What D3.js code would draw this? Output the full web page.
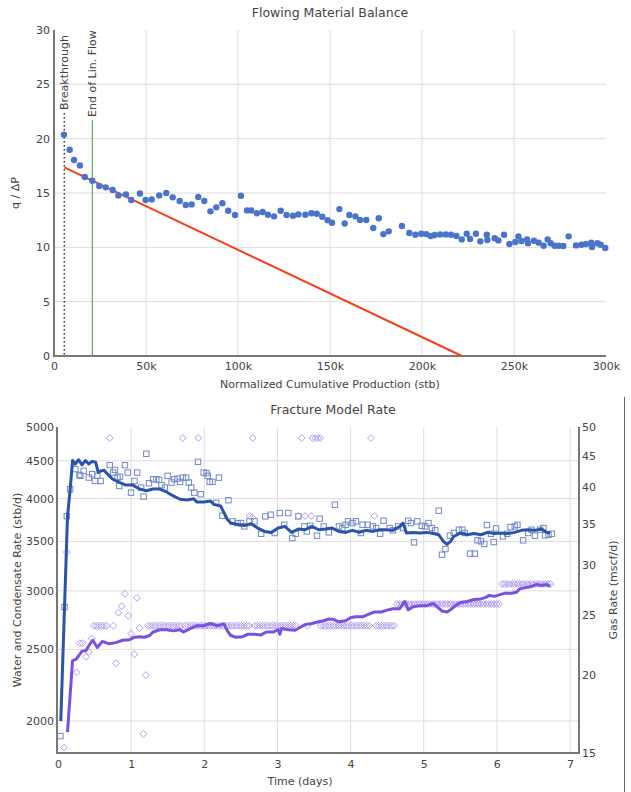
<!DOCTYPE html>
<html>
<head>
<meta charset="utf-8">
<script src="https://cdn.jsdelivr.net/npm/d3@7"></script>
<style>
  body { margin: 0; background: #fff; }
  text { font-family: 'DejaVu Sans', Verdana, sans-serif; fill: #444; }
</style>
</head>
<body>
<div id="viz"></div>
<script>
// ---- Flowing Material Balance data ----
// [normalized cumulative production (stb), q / dP]
const fmbPoints = [
  [5400, 20.36], [8500, 18.98], [10900, 18.03], [14100, 17.54], [16700, 16.47], [20800, 16.13],
  [24600, 15.64], [28100, 15.52], [31900, 15.27], [35000, 14.78], [39100, 14.87], [42000, 14.35],
  [46700, 14.96], [49800, 14.35], [53100, 14.41], [57200, 14.78], [61000, 15.0], [64500, 14.6],
  [68300, 14.26], [71600, 13.89], [74800, 13.95], [78400, 14.63], [81700, 14.26], [85000, 13.31],
  [88200, 13.68], [91500, 14.05], [94700, 13.37], [98400, 12.97], [101600, 14.75], [104900, 13.4],
  [107200, 13.4], [110200, 13.13], [113400, 13.25], [116300, 13.0], [119600, 12.85], [123200, 13.37],
  [126400, 12.97], [129900, 12.91], [132800, 13.03], [136600, 13.0], [139900, 13.13], [142800, 13.09],
  [145800, 12.82], [148700, 12.5], [151100, 12.26], [155100, 13.52], [158000, 12.2], [160500, 12.97],
  [163800, 12.85], [166300, 12.51], [169700, 12.51], [173500, 11.78], [176500, 12.67], [179000, 11.22],
  [181900, 11.47], [189100, 11.96], [193100, 11.32], [196400, 11.16], [199600, 11.25], [202300, 11.22],
  [204700, 11.04], [206900, 11.13], [209900, 11.19], [213000, 11.19], [215800, 11.16], [218700, 11.04],
  [221600, 10.73], [224300, 11.25], [226100, 10.76], [229300, 11.25], [231700, 10.55], [235200, 11.16],
  [235500, 10.67], [239500, 10.83], [241500, 10.64], [244600, 11.16], [247500, 10.3], [250700, 10.49],
  [252400, 11.01], [254000, 10.58], [257100, 10.73], [257600, 10.37], [260900, 10.61], [263400, 10.43],
  [266100, 10.15], [268300, 10.73], [269900, 10.37], [272100, 10.15], [274300, 10.15], [276800, 10.12],
  [279700, 11.01], [283700, 10.18], [286600, 10.24], [289100, 10.3], [292000, 10.43], [292400, 10.03],
  [295300, 10.37], [297100, 10.24], [299600, 9.94]
]
const fmbFit = [[5600, 17.35], [221700, 0]]
const breakthroughX = 5600
const endLinFlowX = 20800
const fmbXTicks = [0, 50000, 100000, 150000, 200000, 250000, 300000]
const fmbYTicks = [0, 5, 10, 15, 20, 25, 30]

// ---- Fracture Model Rate data ----
// water + condensate measured [days, stb/d]
const waterPoints = [
  [0.033, 1908], [0.089, 2853], [0.120, 3786], [0.167, 4119], [0.236, 4385], [0.292, 4306],
  [0.306, 4294], [0.351, 4361], [0.421, 4271], [0.467, 4316], [0.505, 4226], [0.537, 4294],
  [0.583, 4226], [0.707, 4440], [0.754, 4338], [0.779, 4373], [0.814, 4270], [0.837, 4160],
  [0.848, 4283], [0.915, 4440], [0.953, 4338], [0.998, 4075], [1.045, 4226], [1.082, 4338],
  [1.137, 4140], [1.170, 4025], [1.207, 4600], [1.244, 4196], [1.300, 4249], [1.345, 4249],
  [1.383, 4240], [1.415, 4170], [1.461, 4140], [1.498, 4294], [1.553, 4205], [1.591, 4249],
  [1.636, 4257], [1.669, 4214], [1.706, 4270], [1.752, 4270], [1.789, 4205], [1.822, 4140],
  [1.863, 4075], [1.914, 4486], [1.951, 4055], [1.992, 4338], [2.030, 4330], [2.048, 4294],
  [2.075, 4214], [2.113, 4214], [2.163, 3947], [2.200, 4270], [2.247, 3792], [2.330, 3980],
  [2.386, 3726], [2.455, 3706], [2.501, 3706], [2.547, 3668], [2.617, 3726], [2.686, 3726],
  [2.778, 3585], [2.834, 3784], [2.908, 3804], [2.963, 3593], [3.032, 3824], [3.092, 3687],
  [3.148, 3824], [3.203, 3537], [3.250, 3585], [3.286, 3784], [3.369, 3668], [3.402, 3611],
  [3.448, 3675], [3.541, 3563], [3.577, 3757], [3.633, 3668], [3.703, 3600], [3.786, 3924],
  [3.841, 3668], [3.887, 3649], [3.933, 3687], [3.965, 3726], [4.026, 3706], [4.072, 3726],
  [4.141, 3593], [4.164, 3687], [4.234, 3687], [4.303, 3668], [4.350, 3649], [4.404, 3585],
  [4.451, 3733], [4.534, 3649], [4.580, 3623], [4.650, 3668], [4.719, 3649], [4.788, 3733],
  [4.825, 3706], [4.867, 3490], [4.913, 3726], [4.973, 3675], [5.019, 3668], [5.066, 3706],
  [5.112, 3649], [5.158, 3623], [5.205, 3852], [5.250, 3358], [5.297, 3418], [5.357, 3563],
  [5.412, 3593], [5.481, 3630], [5.528, 3630], [5.560, 3593], [5.634, 3369], [5.698, 3369],
  [5.736, 3512], [5.782, 3501], [5.828, 3472], [5.865, 3683], [5.920, 3585], [5.957, 3494],
  [5.989, 3645], [6.083, 3556], [6.142, 3585], [6.188, 3660], [6.244, 3668], [6.281, 3687],
  [6.359, 3512], [6.428, 3593], [6.475, 3630], [6.521, 3563], [6.591, 3630], [6.636, 3649],
  [6.660, 3567], [6.706, 3574], [6.752, 3585]
]
// water + condensate model [days, stb/d]
const waterModel = [
  [0.038, 2000], [0.089, 2853], [0.130, 3786], [0.167, 4119], [0.199, 4505], [0.236, 4455],
  [0.282, 4515], [0.328, 4444], [0.375, 4503], [0.421, 4455], [0.467, 4492], [0.514, 4480],
  [0.550, 4340], [0.583, 4360], [0.629, 4370], [0.675, 4320], [0.745, 4252], [0.837, 4207],
  [0.929, 4172], [1.022, 4172], [1.114, 4122], [1.207, 4099], [1.300, 4121], [1.392, 4121],
  [1.484, 4083], [1.576, 4033], [1.669, 3992], [1.761, 3983], [1.854, 3998], [1.900, 3957],
  [1.992, 3957], [2.084, 3970], [2.131, 3929], [2.223, 3909], [2.270, 3826], [2.316, 3748],
  [2.362, 3707], [2.455, 3690], [2.547, 3677], [2.639, 3699], [2.731, 3649], [2.825, 3611],
  [2.917, 3600], [3.009, 3649], [3.101, 3667], [3.194, 3600], [3.286, 3638], [3.378, 3630],
  [3.471, 3667], [3.564, 3630], [3.656, 3638], [3.748, 3649], [3.841, 3611], [3.933, 3600],
  [4.025, 3623], [4.118, 3600], [4.210, 3623], [4.302, 3611], [4.394, 3630], [4.487, 3630],
  [4.579, 3623], [4.672, 3667], [4.718, 3706], [4.764, 3593], [4.857, 3600], [4.949, 3593],
  [5.041, 3600], [5.134, 3587], [5.204, 3574], [5.272, 3498], [5.319, 3470], [5.365, 3498],
  [5.411, 3554], [5.504, 3593], [5.596, 3574], [5.688, 3587], [5.781, 3574], [5.874, 3600],
  [5.966, 3587], [6.058, 3593], [6.151, 3587], [6.243, 3600], [6.335, 3623], [6.427, 3630],
  [6.520, 3623], [6.613, 3638], [6.682, 3600], [6.729, 3593]
]
// gas measured [days, mscf/d]
const gasPoints = [
  [0.083, 15.3], [0.120, 31.5], [0.255, 20.2], [0.300, 22.5], [0.335, 22.5], [0.383, 21.4],
  [0.418, 21.8], [0.460, 22.9], [0.708, 48], [0.756, 24], [0.792, 20.9], [0.826, 25.2],
  [0.872, 25.8], [0.916, 27.0], [0.961, 24.9], [0.999, 23.3], [1.044, 21.6], [1.079, 26.6],
  [1.117, 23.8], [1.168, 16.1], [1.200, 20.0], [1.706, 48], [1.918, 48], [2.620, 36],
  [2.655, 35.8], [2.662, 48], [3.287, 36], [3.332, 48], [3.378, 36], [3.411, 24], [3.462, 36],
  [3.479, 48], [3.516, 48], [3.553, 48], [3.586, 48], [4.279, 48], [4.326, 36],
  [0.490, 24], [0.525, 24], [0.560, 24], [0.595, 24], [0.630, 24], [0.665, 24],
  [1.230, 24], [1.265, 24], [1.300, 24], [1.335, 24], [1.370, 24], [1.405, 24], [1.440, 24],
  [1.475, 24], [1.510, 24], [1.545, 24], [1.580, 24], [1.615, 24], [1.650, 24], [1.685, 24],
  [1.740, 24], [1.775, 24], [1.810, 24], [1.845, 24], [1.880, 24], [1.915, 24], [1.950, 24],
  [1.985, 24], [2.020, 24], [2.055, 24], [2.090, 24], [2.125, 24], [2.160, 24], [2.195, 24],
  [2.230, 24], [2.265, 24], [2.300, 24], [2.335, 24], [2.370, 24], [2.405, 24], [2.440, 24],
  [2.475, 24], [2.510, 24], [2.545, 24], [2.580, 24], [2.610, 24],
  [2.690, 24], [2.725, 24], [2.760, 24], [2.795, 24], [2.830, 24], [2.865, 24], [2.900, 24],
  [2.935, 24], [2.970, 24], [3.005, 24], [3.040, 24], [3.075, 24], [3.110, 24], [3.145, 24],
  [3.180, 24], [3.215, 24], [3.250, 24],
  [3.590, 24], [3.625, 24], [3.660, 24], [3.695, 24], [3.730, 24], [3.765, 24], [3.800, 24],
  [3.835, 24], [3.870, 24], [3.905, 24], [3.940, 24], [3.975, 24], [4.010, 24], [4.045, 24],
  [4.080, 24], [4.115, 24], [4.150, 24], [4.185, 24], [4.220, 24], [4.255, 24],
  [4.350, 24], [4.385, 24], [4.420, 24], [4.455, 24], [4.490, 24], [4.525, 24], [4.560, 24],
  [4.595, 24],
  [4.630, 26], [4.665, 26], [4.700, 26], [4.735, 26], [4.770, 26], [4.805, 26], [4.840, 26],
  [4.875, 26], [4.910, 26], [4.945, 26], [4.980, 26], [5.015, 26], [5.050, 26], [5.085, 26],
  [5.120, 26], [5.155, 26], [5.190, 26], [5.225, 26], [5.260, 26], [5.295, 26], [5.330, 26],
  [5.365, 26], [5.400, 26], [5.435, 26], [5.470, 26], [5.505, 26], [5.540, 26], [5.575, 26],
  [5.610, 26], [5.645, 26], [5.680, 26], [5.715, 26], [5.750, 26], [5.785, 26], [5.820, 26],
  [5.855, 26], [5.890, 26], [5.925, 26], [5.960, 26], [5.995, 26], [6.030, 26],
  [6.070, 28], [6.105, 28], [6.140, 28], [6.175, 28], [6.210, 28], [6.245, 28], [6.280, 28],
  [6.315, 28], [6.350, 28], [6.385, 28], [6.420, 28], [6.455, 28], [6.490, 28], [6.525, 28],
  [6.560, 28], [6.595, 28], [6.630, 28], [6.665, 28], [6.700, 28], [6.735, 28]
]
// gas model [days, mscf/d]
const gasModel = [
  [0.130, 16.2], [0.199, 21.1], [0.246, 21.2], [0.329, 21.85], [0.384, 21.9], [0.421, 22.3],
  [0.476, 22.75], [0.537, 22.15], [0.606, 22.65], [0.698, 22.45], [0.791, 22.55], [0.883, 22.75],
  [0.975, 22.78], [1.045, 23.0], [1.114, 23.05], [1.184, 23.0], [1.253, 23.15], [1.300, 23.45],
  [1.392, 23.65], [1.484, 23.65], [1.576, 23.55], [1.669, 23.65], [1.715, 23.45], [1.808, 23.75],
  [1.900, 24.0], [1.992, 24.0], [2.084, 24.2], [2.177, 24.0], [2.270, 24.15], [2.316, 23.55],
  [2.362, 23.15], [2.431, 23.0], [2.523, 23.05], [2.592, 23.25], [2.685, 23.25], [2.777, 23.2],
  [2.847, 23.45], [2.939, 23.45], [3.009, 23.65], [3.033, 23.25], [3.056, 23.75], [3.148, 23.65],
  [3.240, 23.6], [3.309, 23.85], [3.378, 24.1], [3.471, 24.2], [3.564, 24.35], [3.633, 24.45],
  [3.703, 24.6], [3.772, 24.55], [3.841, 24.35], [3.933, 24.45], [4.003, 24.75], [4.072, 24.8],
  [4.164, 24.8], [4.233, 25.0], [4.325, 25.25], [4.418, 25.25], [4.487, 25.4], [4.579, 25.55],
  [4.672, 25.55], [4.718, 26.05], [4.741, 26.25], [4.788, 25.45], [4.857, 25.75], [4.949, 25.85],
  [5.041, 25.85], [5.134, 26.05], [5.180, 25.75], [5.249, 25.35], [5.319, 25.25], [5.365, 25.45],
  [5.434, 25.85], [5.504, 26.15], [5.596, 26.25], [5.688, 26.45], [5.781, 26.5], [5.850, 26.65],
  [5.897, 26.85], [5.966, 26.75], [6.058, 26.95], [6.104, 27.05], [6.197, 27.05], [6.266, 27.15],
  [6.312, 27.5], [6.381, 27.6], [6.473, 27.75], [6.543, 27.95], [6.613, 27.85], [6.682, 27.95],
  [6.729, 27.75]
]
const rateXTicks = [0, 1, 2, 3, 4, 5, 6, 7]
const rateLeftTicks = [2000, 2500, 3000, 3500, 4000, 4500, 5000]
const rateRightTicks = [15, 20, 25, 30, 35, 40, 45, 50]

const width = 631, height = 792

const svg = d3.select('#viz').append('svg')
    .attr('width', width)
    .attr('height', height)

const gridColor = '#dedede', axisColor = '#777'

// ================= Flowing Material Balance =================
const fmb = { left: 54, right: 606, top: 30, bottom: 356 }

const x1 = d3.scaleLinear().domain([0, 300000]).range([fmb.left, fmb.right])
const y1 = d3.scaleLinear().domain([0, 30]).range([fmb.bottom, fmb.top])

const g1 = svg.append('g')

// grid
g1.append('g').selectAll('line').data(fmbXTicks.filter(d => d > 0 && d < 300000))
    .enter().append('line')
    .attr('x1', d => x1(d)).attr('x2', d => x1(d))
    .attr('y1', fmb.top).attr('y2', fmb.bottom)
    .attr('stroke', gridColor)
g1.append('g').selectAll('line').data(fmbYTicks.filter(d => d > 0 && d < 30))
    .enter().append('line')
    .attr('x1', fmb.left).attr('x2', fmb.right)
    .attr('y1', d => y1(d)).attr('y2', d => y1(d))
    .attr('stroke', gridColor)

// axes
const xAxis1 = d3.axisBottom(x1).tickValues(fmbXTicks).tickSize(0).tickPadding(6)
    .tickFormat(d => d === 0 ? '0' : d / 1000 + 'k')
const xAxis1G = g1.append('g').attr('transform', `translate(0, ${fmb.bottom})`).call(xAxis1)
const yAxis1 = d3.axisLeft(y1).tickValues(fmbYTicks).tickSize(0).tickPadding(4)
const yAxis1G = g1.append('g').attr('transform', `translate(${fmb.left}, 0)`).call(yAxis1)
;[xAxis1G, yAxis1G].forEach(a => {
    a.select('.domain').remove()
    a.selectAll('text').style('font-size', '11px').style('font-family', "'DejaVu Sans', sans-serif").attr('fill', '#444')
})

g1.append('line').attr('x1', fmb.left).attr('x2', fmb.left)
    .attr('y1', fmb.top).attr('y2', fmb.bottom + 1)
    .attr('stroke', axisColor).attr('stroke-width', 2)
g1.append('line').attr('x1', fmb.left).attr('x2', fmb.right)
    .attr('y1', fmb.bottom).attr('y2', fmb.bottom)
    .attr('stroke', axisColor).attr('stroke-width', 2)

// breakthrough + end of linear flow markers
g1.append('line')
    .attr('x1', x1(breakthroughX)).attr('x2', x1(breakthroughX))
    .attr('y1', 113).attr('y2', fmb.bottom)
    .attr('stroke', '#333').attr('stroke-width', 1.5).attr('stroke-dasharray', '1.5,2.5')
g1.append('text')
    .attr('transform', `translate(${x1(breakthroughX) + 4}, 110) rotate(-90)`)
    .style('font-size', '11px')
    .text('Breakthrough')
g1.append('line')
    .attr('x1', x1(endLinFlowX)).attr('x2', x1(endLinFlowX))
    .attr('y1', 120).attr('y2', fmb.bottom)
    .attr('stroke', '#3a9a3a').attr('stroke-width', 1)
g1.append('text')
    .attr('transform', `translate(${x1(endLinFlowX) + 4}, 117) rotate(-90)`)
    .style('font-size', '11px')
    .text('End of Lin. Flow')

// fit line
g1.append('path').datum(fmbFit)
    .attr('d', d3.line().x(d => x1(d[0])).y(d => y1(d[1])))
    .attr('fill', 'none').attr('stroke', '#f4411c').attr('stroke-width', 2)

// points
g1.append('g').selectAll('circle').data(fmbPoints)
    .enter().append('circle')
    .attr('cx', d => x1(d[0])).attr('cy', d => y1(d[1]))
    .attr('r', 3.2)
    .attr('fill', '#4a74cc')

g1.append('text').attr('x', 330).attr('y', 17).attr('text-anchor', 'middle')
    .style('font-size', '12.5px').attr('fill', '#333')
    .text('Flowing Material Balance')
g1.append('text').attr('transform', `translate(19, ${(fmb.top + fmb.bottom) / 2}) rotate(-90)`)
    .attr('text-anchor', 'middle').style('font-size', '11px')
    .text('q / ΔP')
g1.append('text').attr('x', 330).attr('y', 388).attr('text-anchor', 'middle')
    .style('font-size', '11px')
    .text('Normalized Cumulative Production (stb)')

// ================= Fracture Model Rate =================
const fr = { left: 57, right: 579, top: 427, bottom: 753 }

const x2 = d3.scaleLinear().domain([0, 7]).range([58, 570])
const yL = d3.scaleLog().domain([1810, 5000]).range([fr.bottom, fr.top])
const yR = d3.scaleLog().domain([15, 50]).range([fr.bottom, fr.top])

const g2 = svg.append('g')

g2.append('g').selectAll('line').data(rateXTicks.filter(d => d > 0))
    .enter().append('line')
    .attr('x1', d => x2(d)).attr('x2', d => x2(d))
    .attr('y1', fr.top).attr('y2', fr.bottom)
    .attr('stroke', gridColor)
g2.append('g').selectAll('line').data(rateLeftTicks.filter(d => d < 5000))
    .enter().append('line')
    .attr('x1', fr.left).attr('x2', fr.right)
    .attr('y1', d => yL(d)).attr('y2', d => yL(d))
    .attr('stroke', gridColor)

const xAxis2G = g2.append('g').attr('transform', `translate(0, ${fr.bottom})`)
    .call(d3.axisBottom(x2).tickValues(rateXTicks).tickSize(0).tickPadding(7).tickFormat(d3.format('d')))
const yAxisLG = g2.append('g').attr('transform', `translate(${fr.left}, 0)`)
    .call(d3.axisLeft(yL).tickValues(rateLeftTicks).tickSize(0).tickPadding(3).tickFormat(d3.format('d')))
const yAxisRG = g2.append('g').attr('transform', `translate(${fr.right}, 0)`)
    .call(d3.axisRight(yR).tickValues(rateRightTicks).tickSize(0).tickPadding(3).tickFormat(d3.format('d')))
;[xAxis2G, yAxisLG, yAxisRG].forEach(a => {
    a.select('.domain').remove()
    a.selectAll('text').style('font-size', '11px').style('font-family', "'DejaVu Sans', sans-serif").attr('fill', '#444')
})

g2.append('line').attr('x1', fr.left).attr('x2', fr.left)
    .attr('y1', fr.top).attr('y2', fr.bottom + 1)
    .attr('stroke', axisColor).attr('stroke-width', 2)
g2.append('line').attr('x1', fr.right).attr('x2', fr.right)
    .attr('y1', fr.top).attr('y2', fr.bottom + 1)
    .attr('stroke', axisColor).attr('stroke-width', 2)
g2.append('line').attr('x1', fr.left).attr('x2', fr.right)
    .attr('y1', fr.bottom).attr('y2', fr.bottom)
    .attr('stroke', axisColor).attr('stroke-width', 2)

// measured water squares
g2.append('g').selectAll('rect').data(waterPoints)
    .enter().append('rect')
    .attr('x', d => x2(d[0]) - 2.7).attr('y', d => yL(d[1]) - 2.7)
    .attr('width', 5.4).attr('height', 5.4)
    .attr('fill', 'none').attr('stroke', '#7189c9').attr('stroke-width', 1)

// measured gas diamonds
const diamond = d3.symbol().type(d3.symbolDiamond2).size(30)
g2.append('g').selectAll('path').data(gasPoints)
    .enter().append('path')
    .attr('transform', d => `translate(${x2(d[0])}, ${yR(d[1])})`)
    .attr('d', diamond)
    .attr('fill', 'none').attr('stroke', '#b29cf2').attr('stroke-width', 1)

// model lines
g2.append('path').datum(waterModel)
    .attr('d', d3.line().x(d => x2(d[0])).y(d => yL(d[1])))
    .attr('fill', 'none').attr('stroke', '#2a53ab').attr('stroke-width', 3)
    .attr('stroke-linejoin', 'round')
g2.append('path').datum(gasModel)
    .attr('d', d3.line().x(d => x2(d[0])).y(d => yR(d[1])))
    .attr('fill', 'none').attr('stroke', '#7a52e0').attr('stroke-width', 3)
    .attr('stroke-linejoin', 'round')

g2.append('text').attr('x', 333).attr('y', 414).attr('text-anchor', 'middle')
    .style('font-size', '12.5px').attr('fill', '#333')
    .text('Fracture Model Rate')
g2.append('text').attr('transform', `translate(21, ${(fr.top + fr.bottom) / 2}) rotate(-90)`)
    .attr('text-anchor', 'middle').style('font-size', '11px')
    .text('Water and Condensate Rate (stb/d)')
g2.append('text').attr('transform', `translate(617, ${(fr.top + fr.bottom) / 2}) rotate(-90)`)
    .attr('text-anchor', 'middle').style('font-size', '11px')
    .text('Gas Rate (mscf/d)')
g2.append('text').attr('x', 300).attr('y', 785).attr('text-anchor', 'middle')
    .style('font-size', '11px')
    .text('Time (days)')

// panel edge on the right of the lower chart
svg.append('line').attr('x1', 624.5).attr('x2', 624.5)
    .attr('y1', 397).attr('y2', height)
    .attr('stroke', '#666').attr('stroke-width', 1)
</script>
</body>
</html>
